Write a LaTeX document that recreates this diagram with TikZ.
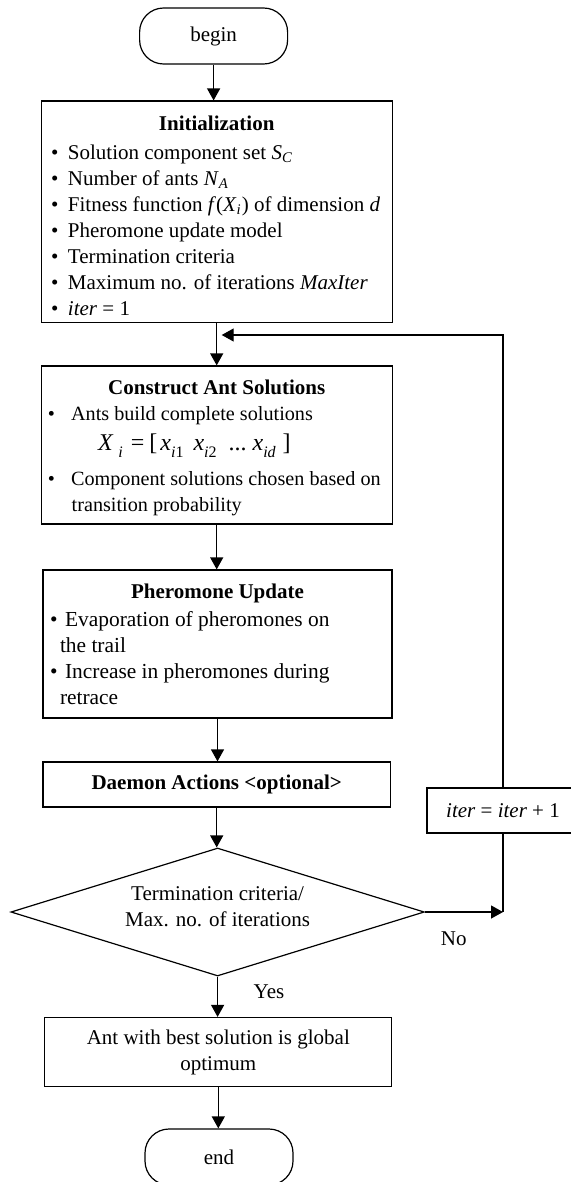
\documentclass[tikz,border=0pt]{standalone}
\usepackage{fontspec}
\setmainfont{Liberation Serif}
\usetikzlibrary{shapes.geometric,arrows.meta}

\begin{document}
\begin{tikzpicture}[x=0.5pt, y=-0.5pt, line width=0.6pt,
  font=\fontsize{10.5}{13}\selectfont,
  >={Triangle[length=6pt,width=6.5pt]},
  term/.style={draw, rounded corners=12pt, minimum width=74pt, minimum height=28pt, inner sep=0pt},
  block/.style={draw, rectangle, inner ysep=0pt},
  listbox/.style={block, inner xsep=0pt, text width=#1, minimum width=#1, align=flush left},
  decision/.style={draw, diamond, aspect=3.23, minimum width=206.7pt, minimum height=64pt, inner sep=0pt, text width=100pt, align=flush center},
  tag/.style={inner sep=0pt}]
  \useasboundingbox (0,0) rectangle (571,1182);
  \clip (0,0) rectangle (571,1182);

  % main column
  \node[term] (begin) at (213.6,36) {begin};
  \node[listbox=175.5pt, minimum height=110.75pt] (init) at (216.7,211.8) {%
    \vskip-2pt
    \centerline{\textbf{Initialization}}\vskip1.5pt
    \leftskip=4.9pt
    \textbullet\hspace{4.8pt}Solution component set \textit{S}\textsubscript{\textit{C}}\\
    \textbullet\hspace{4.8pt}Number of ants \textit{N}\textsubscript{\textit{A}}\\
    \textbullet\hspace{4.8pt}Fitness function \textit{f}(\textit{X}\textsubscript{\textit{i}}) of dimension \textit{d}\\
    \textbullet\hspace{4.8pt}Pheromone update model\\
    \textbullet\hspace{4.8pt}Termination criteria\\
    \textbullet\hspace{4.8pt}Maximum no. of iterations \textit{MaxIter}\\
    \textbullet\hspace{4.8pt}\textit{iter} = 1\par};
  \node[listbox=175.5pt, minimum height=79pt] (construct) at (216.7,445) {%
    \vskip-3pt
    \centerline{\textbf{Construct Ant Solutions}}
    \leftskip=3.4pt \fontsize{10.1}{13}\selectfont
    \textbullet\hspace{8pt}Ants build complete solutions\\[2.25pt]
    \hspace*{25pt}{\fontsize{12}{13}\selectfont\textit{X}\hspace{2.5pt}\raisebox{-3.5pt}{\footnotesize\textit{i}}\hspace{4pt}=\hspace{2.5pt}[\hspace{1.5pt}\textit{x}\raisebox{-3.5pt}{\footnotesize\textit{i}1}\hspace{5pt}\textit{x}\raisebox{-3.5pt}{\footnotesize\textit{i}2}\hspace{6pt}...\hspace{3pt}\textit{x}\raisebox{-3.5pt}{\footnotesize\textit{id}}\hspace{3.5pt}]}\\[4.25pt]
    \textbullet\hspace{8pt}Component solutions chosen based on\\
    \hspace*{11.85pt}transition probability\par};
  \node[listbox=174.5pt, minimum height=74pt] (pheromone) at (217.5,644) {%
    \centerline{\textbf{Pheromone Update}}\vskip1pt
    \leftskip=3.5pt \fontsize{10.7}{13}\selectfont
    \textbullet\hspace{3.8pt}Evaporation of pheromones on\\
    \hspace*{5pt}the trail\\
    \textbullet\hspace{3.8pt}Increase in pheromones during\\
    \hspace*{5pt}retrace\par};
  \node[block, minimum width=173.7pt, minimum height=22.5pt] (daemon) at (216.7,784.5) {\textbf{Daemon Actions <optional>}};
  \node[decision] (check) at (217.6,912) {Termination criteria/\\Max. no. of iterations\par\kern5pt};
  \node[block, minimum width=173.5pt, minimum height=34.5pt, align=center] (best) at (218.3,1052) {Ant with best solution is global\\optimum};
  \node[term] (end) at (219,1157) {end};

  % loop back
  \node[block, minimum width=76pt, minimum height=22.5pt] (next) at (503,810.5) {\textit{iter} = \textit{iter} + 1};
  \coordinate (back) at (221.7,335);

  \draw[->] (begin.south) -- (begin.south |- init.north);
  \draw[->] (init.south) -- (init.south |- construct.north);
  \draw[->] (construct.south) -- (construct.south |- pheromone.north);
  \draw[->] (pheromone.south) -- (pheromone.south |- daemon.north);
  \draw[->] (daemon.south) -- (daemon.south |- check.north);
  \draw[->] (check.south) -- (check.south |- best.north) node[tag, pos=0.37, right=17.75pt] {Yes};
  \draw[->] (best.south) -- (best.south |- end.north);
  \draw[->] (check.east) -- (check.east -| next.south) node[tag, pos=0.37, below=9.6pt] {No};
  \draw (next.south) -- (check.east -| next.south);
  \draw[->] (next.north) |- (back);
\end{tikzpicture}
\end{document}
